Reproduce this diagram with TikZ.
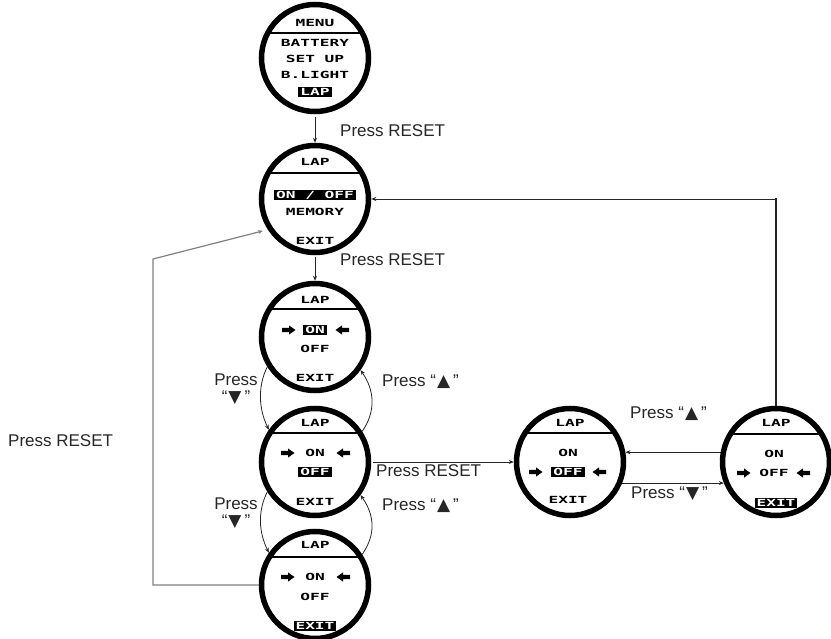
\documentclass[tikz,border=0pt]{standalone}
\usepackage{fontspec}
\newfontfamily\lbl{Liberation Sans}
\newfontfamily\sym{DejaVu Sans}
\newfontfamily\lcd[FakeStretch=1.65]{DejaVu Sans Mono}
\usetikzlibrary{arrows.meta,calc}
\newcommand\upk{“\kern1pt{\sym▲}\kern3pt”}
\newcommand\dnk{“\kern1pt{\sym▼}\kern3pt”}
\tikzset{
  disp/.style={circle, draw, line width=5.5pt, minimum size=107pt, inner sep=0pt},
  lcdtxt/.style={font=\lcd\bfseries\fontsize{9.8}{10}\selectfont, inner xsep=2pt, inner ysep=1.5pt, text height=7.2pt, text depth=0pt},
  inv/.style={lcdtxt, fill=black, text=white},
  chord/.style={line width=2.5pt},
  lab/.style={font=\lbl\fontsize{17}{17}\selectfont, inner sep=0pt, text=black!85},
  conn/.style={draw=black!85, line width=0.8pt, -{Stealth[length=5pt,width=4pt]}},
  back/.style={draw=black!50, line width=1.2pt, -{Stealth[length=5pt,width=4pt]}},
  rarrow/.pic={\fill (-7,-2.2) -- (0,-2.2) -- (0,-4.6) -- (6.5,0) -- (0,4.6) -- (0,2.2) -- (-7,2.2) -- cycle;},
}
\begin{document}
\begin{tikzpicture}[x=1pt,y=-1pt]
\useasboundingbox (0,0) rectangle (831,639);

% ---------- displays ----------
\node[disp] (c1) at (315,58) {};
\node[disp] (c2) at (315,199) {};
\node[disp] (c3) at (315,337) {};
\node[disp] (c4) at (315,462) {};
\node[disp] (c5) at (315,585) {};
\node[disp] (c6) at (570,462) {};
\node[disp] (c7) at (776,462) {};

% C1 MENU
\node[lcdtxt] (c1h) at ($(c1)+(0,-35)$) {MENU};
\draw[chord] ($(c1)+(-47.3,-25)$) -- ($(c1)+(47.3,-25)$);
\node[lcdtxt] (c1a) at ($(c1)+(0,-15)$) {BATTERY};
\node[lcdtxt] (c1b) at ($(c1)+(0,1)$) {SET UP};
\node[lcdtxt] (c1c) at ($(c1)+(0,17)$) {B.LIGHT};
\node[inv] (c1d) at ($(c1)+(0,34)$) {LAP};

% C2
\node[lcdtxt] (c2h) at ($(c2)+(0,-37)$) {LAP};
\draw[chord] ($(c2)+(-46.8,-26)$) -- ($(c2)+(46.8,-26)$);
\node[inv] (c2a) at ($(c2)+(0,-4)$) {ON / OFF};
\node[lcdtxt] (c2b) at ($(c2)+(0,13)$) {MEMORY};
\node[lcdtxt] (c2e) at ($(c2)+(0,42)$) {EXIT};

% C3
\node[lcdtxt] (c3h) at ($(c3)+(0,-37)$) {LAP};
\draw[chord] ($(c3)+(-45.6,-28)$) -- ($(c3)+(45.6,-28)$);
\pic at ($(c3)+(-26,-7)$) {rarrow};
\node[inv] (c3a) at ($(c3)+(0,-7)$) {ON};
\pic[rotate=180] at ($(c3)+(27,-7)$) {rarrow};
\node[lcdtxt] (c3b) at ($(c3)+(0,12)$) {OFF};
\node[lcdtxt] (c3e) at ($(c3)+(0,41)$) {EXIT};

% C4
\node[lcdtxt] (c4h) at ($(c4)+(0,-39)$) {LAP};
\draw[chord] ($(c4)+(-45.1,-29)$) -- ($(c4)+(45.1,-29)$);
\pic at ($(c4)+(-27,-9)$) {rarrow};
\node[lcdtxt] (c4a) at ($(c4)+(0,-9)$) {ON};
\pic[rotate=180] at ($(c4)+(28,-9)$) {rarrow};
\node[inv] (c4b) at ($(c4)+(0,10)$) {OFF};
\node[lcdtxt] (c4e) at ($(c4)+(0,40)$) {EXIT};

% C5
\node[lcdtxt] (c5h) at ($(c5)+(0,-40)$) {LAP};
\draw[chord] ($(c5)+(-45.6,-28)$) -- ($(c5)+(45.6,-28)$);
\pic at ($(c5)+(-27,-8)$) {rarrow};
\node[lcdtxt] (c5a) at ($(c5)+(0,-8)$) {ON};
\pic[rotate=180] at ($(c5)+(28,-8)$) {rarrow};
\node[lcdtxt] (c5b) at ($(c5)+(0,12)$) {OFF};
\node[inv] (c5e) at ($(c5)+(0,41)$) {EXIT};

% C6
\node[lcdtxt] (c6h) at ($(c6)+(0,-39)$) {LAP};
\draw[chord] ($(c6)+(-45.1,-29)$) -- ($(c6)+(45.1,-29)$);
\node[lcdtxt] (c6a) at ($(c6)+(-2,-9)$) {ON};
\pic at ($(c6)+(-34,10)$) {rarrow};
\node[inv] (c6b) at ($(c6)+(-2,10)$) {OFF};
\pic[rotate=180] at ($(c6)+(29,10)$) {rarrow};
\node[lcdtxt] (c6e) at ($(c6)+(-2,38)$) {EXIT};

% C7
\node[lcdtxt] (c7h) at ($(c7)+(0,-39)$) {LAP};
\draw[chord] ($(c7)+(-45.6,-28)$) -- ($(c7)+(45.6,-28)$);
\node[lcdtxt] (c7a) at ($(c7)+(-2,-8)$) {ON};
\pic at ($(c7)+(-32,11)$) {rarrow};
\node[lcdtxt] (c7b) at ($(c7)+(-2,11)$) {OFF};
\pic[rotate=180] at ($(c7)+(27,11)$) {rarrow};
\node[inv] (c7e) at ($(c7)+(0,41)$) {EXIT};

% ---------- connectors ----------
\draw[conn, shorten <=3pt] (c1.south) -- (c2.north);
\node[lab, anchor=west] (l1) at (340,131) {Press RESET};
\draw[conn, shorten <=2pt] (c2.south) -- (c3.north);
\node[lab, anchor=west] (l2) at (340,260) {Press RESET};

\draw[conn] (c3.212) .. controls +(-10,20) and +(-10,-20) .. (c4.145);
\draw[conn] (c4.33) .. controls +(14,-20) and +(14,20) .. (c3.-36);
\draw[conn] (c4.212) .. controls +(-10,20) and +(-10,-20) .. (c5.145);
\draw[conn] (c5.33) .. controls +(14,-20) and +(14,20) .. (c4.-36);

\node[lab, align=center] (l3) at (236,389) {Press\\\dnk};
\node[lab, anchor=west] (l4) at (382,382) {Press \upk};
\node[lab, align=center] (l5) at (236,513) {Press\\\dnk};
\node[lab, anchor=west] (l6) at (382,506) {Press \upk};

\draw[conn, shorten <=2pt] (c4.east) -- (c6.west);
\node[lab, anchor=west] (l7) at (376,471) {Press RESET};

\draw[conn] (c7.170) -- (c6.10);
\node[lab, anchor=west] (l8) at (630,414) {Press \upk};
\draw[conn] (c6.-22) -- (c7.202);
\node[lab, anchor=west] (l9) at (631,494) {Press \dnk};

\coordinate (tr) at (c7.north |- c2.east);
\draw[draw=black!85, line width=2.5pt] (c7.north) -- ($(tr)+(0,-1.2)$);
\draw[conn] (tr) -- (c2.east);

\coordinate (lt) at (153,259);
\coordinate (lb) at (lt |- c5.west);
\draw[back, shorten >=5pt] (c5.west) -- (lb) -- (lt) -- (c2.213);
\node[lab, anchor=west] (l10) at (8,441) {Press RESET};
\end{tikzpicture}
\end{document}
